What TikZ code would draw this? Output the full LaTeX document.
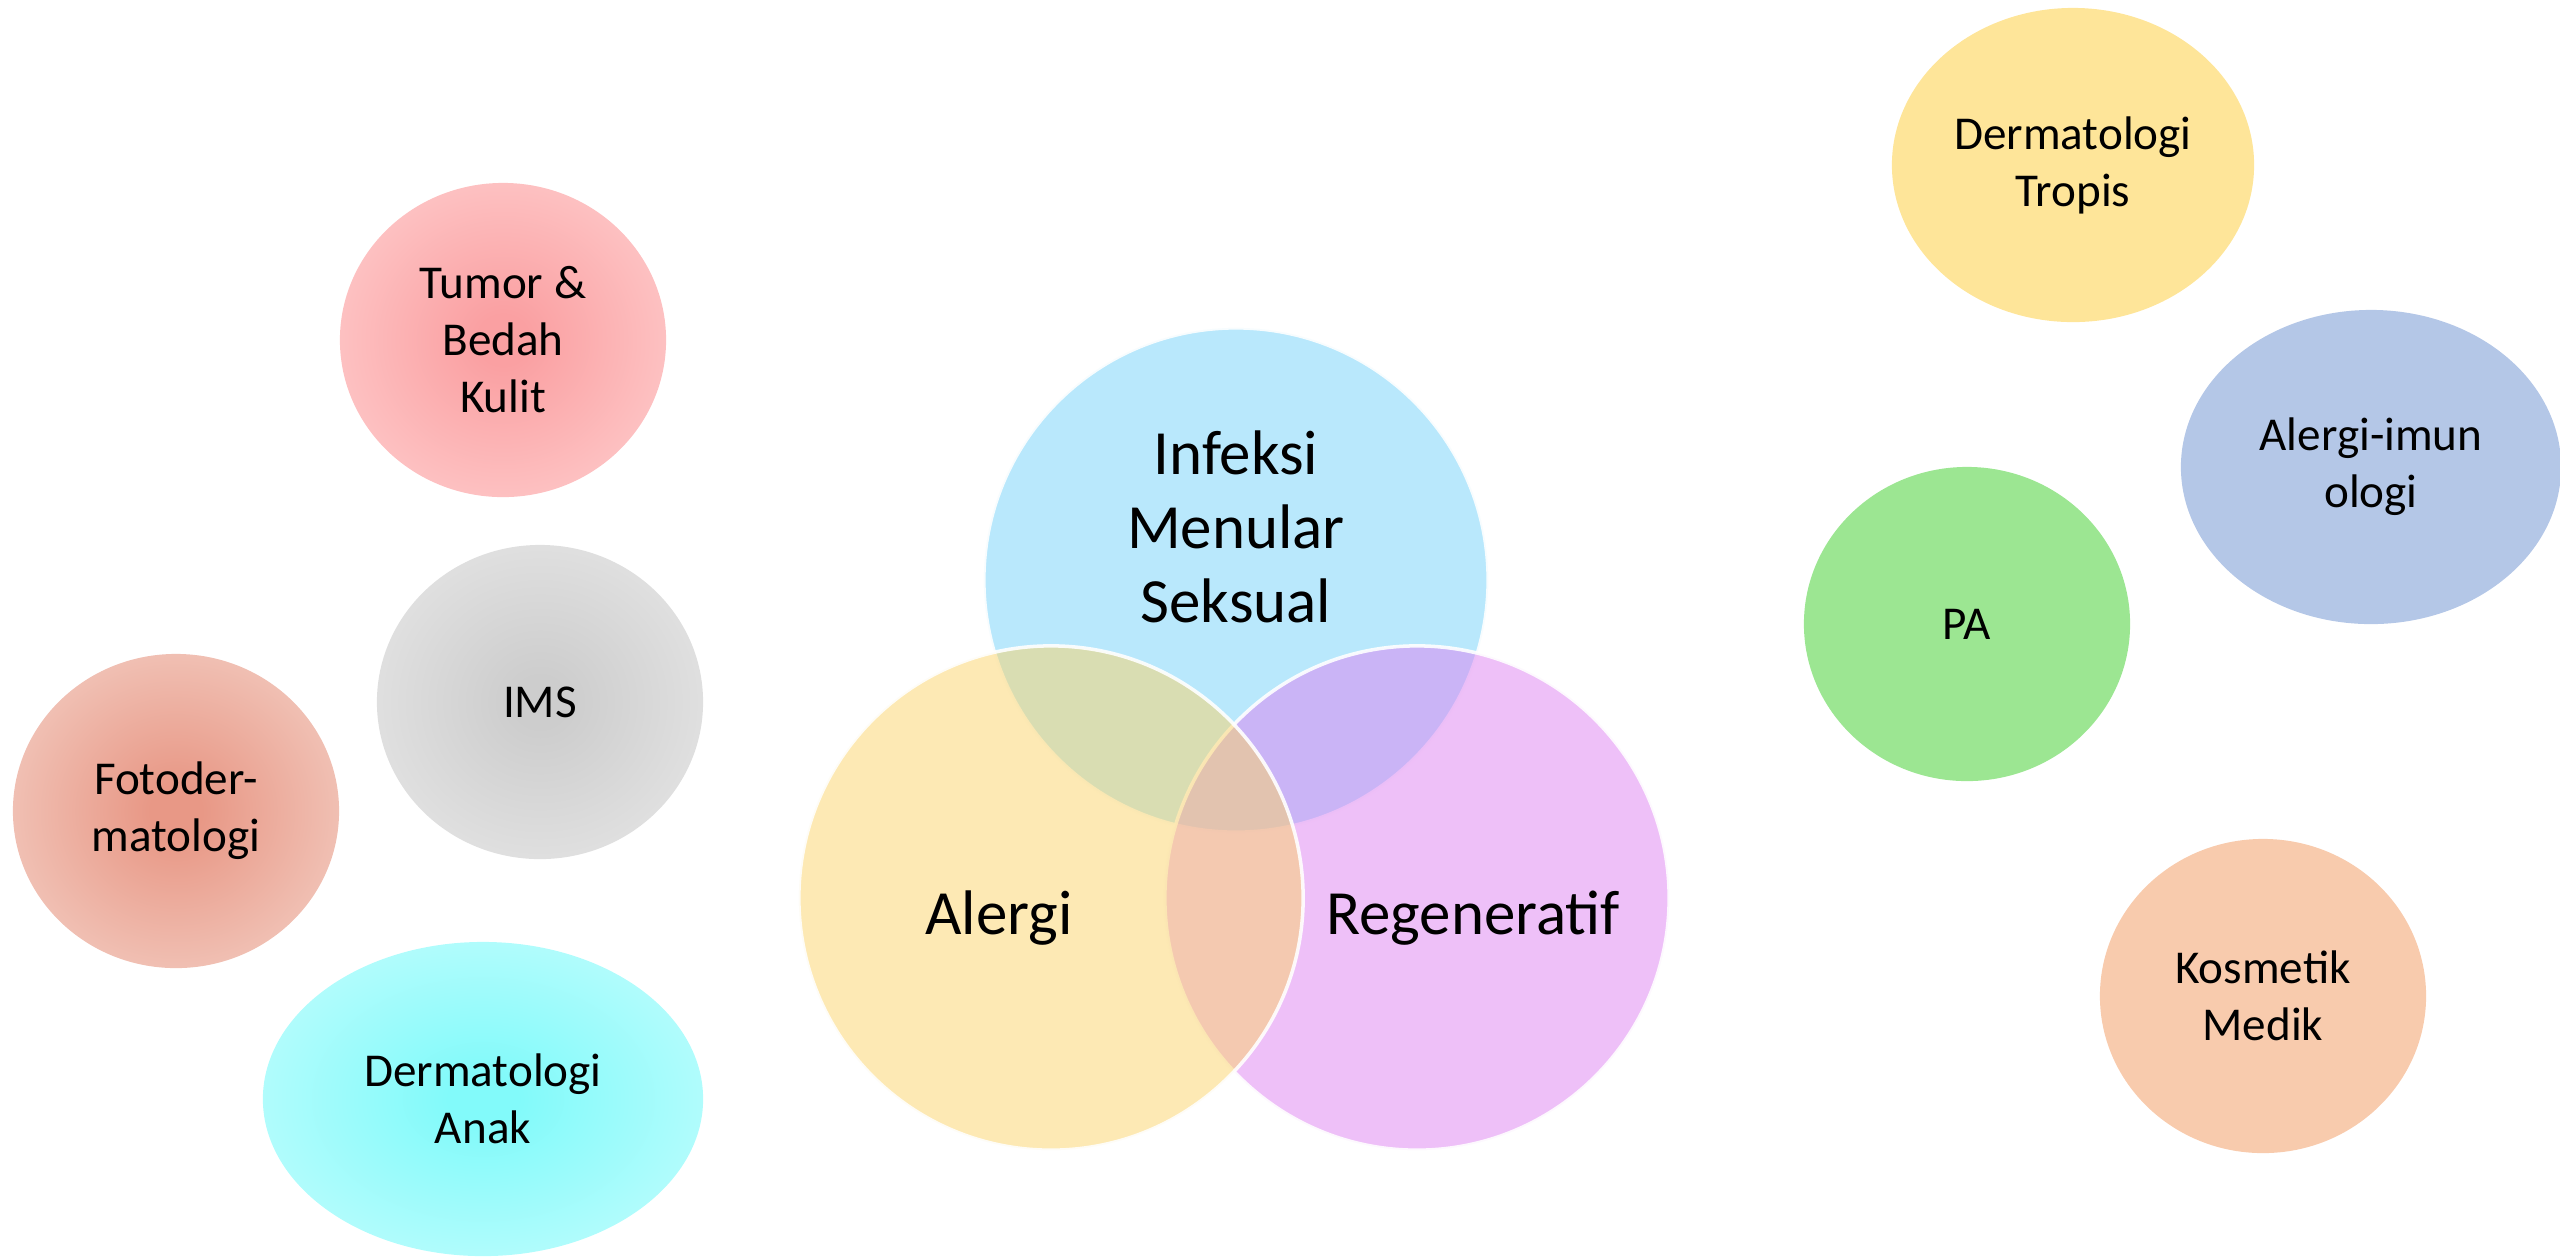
\documentclass[tikz,border=0pt]{standalone}
\usepackage{fontspec}
\setmainfont{Carlito}
\usetikzlibrary{shapes.geometric,positioning}

\definecolor{vennblue}{RGB}{115,209,249}
\definecolor{vennpink}{RGB}{221,129,241}
\definecolor{vennyellow}{RGB}{251,211,105}
\definecolor{tropis}{RGB}{254,229,153}
\definecolor{imun}{RGB}{180,199,231}
\definecolor{pagreen}{RGB}{156,230,146}
\definecolor{kosmetik}{RGB}{248,203,173}
\definecolor{tumorin}{RGB}{250,160,162}
\definecolor{tumorout}{RGB}{255,208,208}
\definecolor{imsin}{RGB}{205,205,205}
\definecolor{imsout}{RGB}{232,232,232}
\definecolor{fotoin}{RGB}{232,152,134}
\definecolor{fotoout}{RGB}{244,210,200}
\definecolor{anakin}{RGB}{130,250,250}
\definecolor{anakout}{RGB}{198,253,253}

\pgfdeclareradialshading{tumorglow}{\pgfpoint{0bp}{0bp}}{color(0bp)=(tumorin); color(4bp)=(tumorin); color(35bp)=(tumorout); color(50bp)=(tumorout)}
\pgfdeclareradialshading{imsglow}{\pgfpoint{0bp}{0bp}}{color(0bp)=(imsin); color(4bp)=(imsin); color(35bp)=(imsout); color(50bp)=(imsout)}
\pgfdeclareradialshading{fotoglow}{\pgfpoint{0bp}{0bp}}{color(0bp)=(fotoin); color(4bp)=(fotoin); color(35bp)=(fotoout); color(50bp)=(fotoout)}
\pgfdeclareradialshading{anakglow}{\pgfpoint{0bp}{0bp}}{color(0bp)=(anakin); color(4bp)=(anakin); color(35bp)=(anakout); color(50bp)=(anakout)}

\tikzset{
    side/.style={ellipse, minimum width=3.26cm, minimum height=3.14cm, align=center, inner sep=2pt,
        font=\fontsize{13.4}{16.2}\selectfont},
    venn/.style={circle, minimum size=5.04cm, fill opacity=0.5, draw=white, draw opacity=0.9, line width=1pt},
    venntext/.style={align=center, font=\fontsize{17.9}{21}\selectfont}
}

\begin{document}
\begin{tikzpicture}[x=0.01cm, y=-0.01cm]
    \useasboundingbox (0,0) rectangle (2560,1256);
    \node[side, shading=tumorglow] (tumor) at (503,340) {Tumor \&\\Bedah\\Kulit};
    \node[side, shading=imsglow] (ims) at (540,702) {IMS};
    \node[side, shading=fotoglow] (foto) at (176,811) {Fotoder-\\matologi};
    \node[side, shading=anakglow, minimum width=4.4cm] (anak) at (483,1099) {Dermatologi\\Anak};
    \node[side, fill=tropis, minimum width=3.62cm] (tropis) at (2073,165) {Dermatologi\\Tropis};
    \node[side, fill=imun, minimum width=3.8cm] (imun) at (2371,467) {Alergi-imun\\ologi};
    \node[side, fill=pagreen] (pa) at (1967,624) {PA};
    \node[side, fill=kosmetik] (kosmetik) at (2263,996) {Kosmetik\\Medik};

    \node[venn, fill=vennblue] (infeksi) at (1236,580) {};
    \node[venn, fill=vennpink] (regen) at (1417,898) {};
    \node[venn, fill=vennyellow] (alergi) at (1051,898) {};
    \node[venntext] (infeksitxt) at ([yshift=0.53cm]infeksi.center) {Infeksi\\Menular\\Seksual};
    \node[venntext] (alergitxt) at ([xshift=-0.52cm, yshift=-0.2cm]alergi.center) {Alergi};
    \node[venntext] (regentxt) at ([xshift=0.56cm, yshift=-0.2cm]regen.center) {Regeneratif};
\end{tikzpicture}
\end{document}
